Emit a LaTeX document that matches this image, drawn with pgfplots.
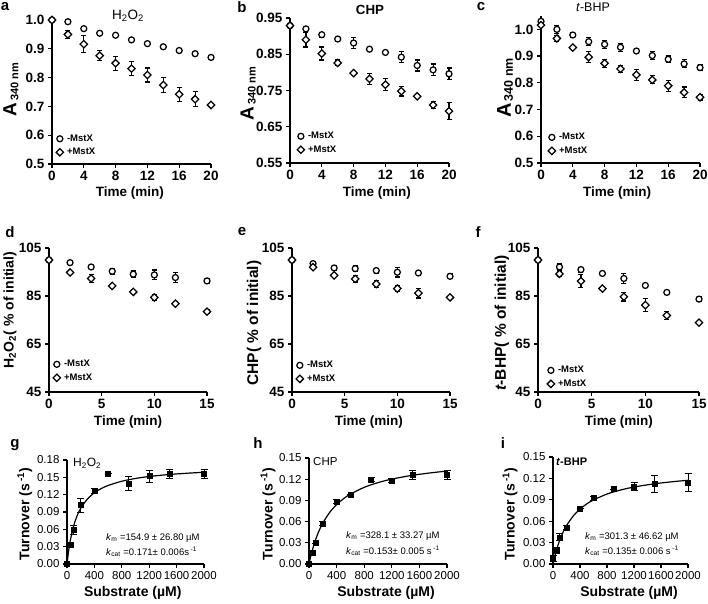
\documentclass[border=0pt]{standalone}
\usepackage{fontspec}
\setmainfont{Liberation Sans}
\usepackage{pgfplots}
\pgfplotsset{compat=1.18}
\newcommand{\fs}[1]{\fontsize{#1}{#1}\selectfont}
\pgfplotsset{
  panel/.style={scale only axis, axis lines=left, axis line style={-, line width=1.5pt, black},
    tick align=outside, major tick length=4pt, tick style={line width=1.2pt, black},
    clip=false, enlargelimits=false, anchor=south west, legend cell align=left,
    legend image code/.code={\draw[mark repeat=2,mark phase=2,##1] plot coordinates {(0pt,0pt) (4pt,0pt) (8pt,0pt)};},
    legend style={draw=none, fill=none, anchor=south west, font=\fs{9.5}\bfseries, inner sep=0pt, row sep=3.5pt, nodes={inner sep=1pt},
      /tikz/every odd column/.append style={column sep=2.5pt}},
    xlabel style={anchor=center}, ylabel style={anchor=center}},
  toprow/.style={panel, tick label style={font=\fs{13.5}\bfseries}, label style={font=\fs{13.5}\bfseries}},
  botrow/.style={panel, tick label style={font=\fs{11.5}}, label style={font=\fs{14}\bfseries}},
  circ/.style={only marks, black, mark=*, mark size=3pt, mark options={fill=white, line width=1.25pt, draw=black},
    error bars/.cd, y dir=both, y explicit, error bar style={line width=1.2pt, black},
    error mark options={rotate=90, mark size=2.5pt, line width=1.2pt, black}},
  diam/.style={only marks, black, mark=square*, mark size=2.6pt, mark options={fill=white, rotate=45, line width=1.25pt, draw=black},
    error bars/.cd, y dir=both, y explicit, error bar style={line width=1.2pt, black},
    error mark options={rotate=90, mark size=2.5pt, line width=1.2pt, black}},
  sq/.style={only marks, black, mark=square*, mark size=2.5pt, mark options={fill=black},
    error bars/.cd, y dir=both, y explicit, error bar style={line width=0.8pt, black},
    error mark options={rotate=90, mark size=3.5pt, line width=0.8pt, black}},
  fit/.style={black, line width=1.2pt, smooth, no marks},
}
\begin{document}
\begin{tikzpicture}
\useasboundingbox (0pt,0pt) rectangle (708pt,603pt);
% ---------- a ----------
\begin{axis}[toprow, at={(52pt,439pt)}, width=159pt, height=144pt,
  xmin=0, xmax=20, ymin=0.5, ymax=1.0,
  xtick={0,4,8,12,16,20}, xticklabels={0,4,8,12,16,20},
  ytick={0.5,0.6,0.7,0.8,0.9,1.0}, yticklabels={0.5,0.6,0.7,0.8,0.9,1.0},
  xlabel={Time (min)}, xlabel style={at={(axis description cs:0.49,-0.2)}},
  ylabel={{\fs{19}A}\,\raisebox{-2pt}{\fs{11}340 nm}}, ylabel style={at={(axis description cs:-0.258,0.514)}},
  legend style={at={(axis description cs:0.025,0.045)}}]
\addplot[circ] table[x=x,y=y,y error=e] {
x y e
0 1.000 0
2 0.994 0.006
4 0.970 0
6 0.954 0.005
8 0.947 0
10 0.931 0
12 0.918 0
14 0.907 0.006
16 0.894 0.007
18 0.883 0
20 0.870 0.007
};
\addlegendentry{-MstX}
\addplot[diam] table[x=x,y=y,y error=e] {
x y e
0 1.000 0
2 0.950 0.013
4 0.916 0.030
6 0.876 0.018
8 0.850 0.024
10 0.831 0.024
12 0.809 0.024
14 0.774 0.025
16 0.742 0.025
18 0.725 0.026
20 0.705 0.005
};
\addlegendentry{+MstX}
\end{axis}
% ---------- b ----------
\begin{axis}[toprow, at={(290pt,440pt)}, width=159pt, height=145pt,
  xmin=0, xmax=20, ymin=0.55, ymax=0.95,
  xtick={0,4,8,12,16,20}, xticklabels={0,4,8,12,16,20},
  ytick={0.55,0.65,0.75,0.85,0.95}, yticklabels={0.55,0.65,0.75,0.85,0.95},
  xlabel={Time (min)}, xlabel style={at={(axis description cs:0.547,-0.207)}},
  ylabel={{\fs{19}A}\,\raisebox{-2pt}{\fs{11}340 nm}}, ylabel style={at={(axis description cs:-0.264,0.476)}},
  legend style={at={(axis description cs:0.044,0.055)}}]
\addplot[circ] table[x=x,y=y,y error=e] {
x y e
0 0.929 0
2 0.920 0
4 0.904 0.007
6 0.892 0
8 0.881 0.016
10 0.864 0
12 0.855 0.006
14 0.842 0.015
16 0.819 0.015
18 0.807 0.016
20 0.796 0.016
};
\addlegendentry{-MstX}
\addplot[diam] table[x=x,y=y,y error=e] {
x y e
0 0.929 0
2 0.890 0.020
4 0.852 0.018
6 0.826 0.008
8 0.798 0
10 0.782 0.016
12 0.766 0.017
14 0.748 0.013
16 0.734 0
18 0.710 0.010
20 0.693 0.024
};
\addlegendentry{+MstX}
\end{axis}
% ---------- c ----------
\begin{axis}[toprow, at={(541pt,440pt)}, width=159pt, height=147pt,
  xmin=0, xmax=20, ymin=0.5, ymax=1.05,
  xtick={0,4,8,12,16,20}, xticklabels={0,4,8,12,16,20},
  ytick={0.5,0.6,0.7,0.8,0.9,1.0}, yticklabels={0.5,0.6,0.7,0.8,0.9,1.0},
  xlabel={Time (min)}, xlabel style={at={(axis description cs:0.478,-0.204)}},
  ylabel={{\fs{20}A}\,\raisebox{-2pt}{\fs{12.5}340 nm}}, ylabel style={at={(axis description cs:-0.226,0.51)}},
  legend style={at={(axis description cs:0.044,0.047)}}]
\addplot[circ] table[x=x,y=y,y error=e] {
x y e
0 1.030 0
2 1.000 0.015
4 0.979 0.008
6 0.954 0.015
8 0.944 0.015
10 0.933 0.015
12 0.919 0
14 0.902 0.015
16 0.888 0.012
18 0.871 0.015
20 0.857 0.010
};
\addlegendentry{-MstX}
\addplot[diam] table[x=x,y=y,y error=e] {
x y e
0 1.016 0
2 0.966 0.010
4 0.932 0.005
6 0.896 0.020
8 0.873 0.015
10 0.852 0.012
12 0.830 0.020
14 0.811 0.015
16 0.789 0.020
18 0.764 0.020
20 0.746 0.010
};
\addlegendentry{+MstX}
\end{axis}
% ---------- d ----------
\begin{axis}[toprow, at={(49pt,211pt)}, width=158pt, height=144pt,
  xmin=0, xmax=15, ymin=45, ymax=105,
  xtick={0,5,10,15}, xticklabels={0,5,10,15},
  ytick={45,65,85,105}, yticklabels={45,65,85,105},
  xlabel={Time (min)}, xlabel style={at={(axis description cs:0.5,-0.208)}},
  ylabel={H\textsubscript{2}O\textsubscript{2}( \% of initial)}, ylabel style={font=\fs{14}\bfseries, at={(axis description cs:-0.247,0.569)}},
  legend style={at={(axis description cs:0.025,0.062)}}]
\addplot[circ] table[x=x,y=y,y error=e] {
x y e
0 100 0
2 98.9 0
4 97.1 0
6 95.3 1.3
8 94.1 1.3
10 93.8 2
12 92.7 2
15 91.3 1
};
\addlegendentry{-MstX}
\addplot[diam] table[x=x,y=y,y error=e] {
x y e
0 100 0
2 94.8 0
4 92.3 1.7
6 89.2 0
8 86.7 0.7
10 84.4 1.3
12 81.8 0.7
15 78.5 0.8
};
\addlegendentry{+MstX}
\end{axis}
% ---------- e ----------
\begin{axis}[toprow, at={(292pt,211pt)}, width=158pt, height=144pt,
  xmin=0, xmax=15, ymin=45, ymax=105,
  xtick={0,5,10,15}, xticklabels={0,5,10,15},
  ytick={45,65,85,105}, yticklabels={45,65,85,105},
  xlabel={Time (min)}, xlabel style={at={(axis description cs:0.487,-0.208)}},
  ylabel={CHP( \% of initial)}, ylabel style={font=\fs{15.5}\bfseries, at={(axis description cs:-0.24,0.479)}},
  legend style={at={(axis description cs:0.025,0.055)}}]
\addplot[circ] table[x=x,y=y,y error=e] {
x y e
0 100 0
2 98.5 0
4 96.7 1
6 96.4 1.3
8 95.6 1
10 94.9 2
12 94.6 1
15 93.2 1
};
\addlegendentry{-MstX}
\addplot[diam] table[x=x,y=y,y error=e] {
x y e
0 100 0
2 97.0 0.5
4 93.6 0
6 92.1 1.3
8 90.0 1.3
10 88.1 1.3
12 86.2 2
15 84.4 0
};
\addlegendentry{+MstX}
\end{axis}
% ---------- f ----------
\begin{axis}[toprow, at={(538pt,211pt)}, width=161pt, height=144pt,
  xmin=0, xmax=15, ymin=45, ymax=105,
  xtick={0,5,10,15}, xticklabels={0,5,10,15},
  ytick={45,65,85,105}, yticklabels={45,65,85,105},
  xlabel={Time (min)}, xlabel style={at={(axis description cs:0.503,-0.208)}},
  ylabel={\textit{t}-BHP( \% of initial)}, ylabel style={font=\fs{15.5}\bfseries, at={(axis description cs:-0.224,0.479)}},
  legend style={at={(axis description cs:0.056,0.02)}}]
\addplot[circ] table[x=x,y=y,y error=e] {
x y e
0 100 0
2 97.1 1.3
4 96.0 1
6 94.4 0
8 92.3 2
10 89.4 0
12 86.5 0
15 83.7 1
};
\addlegendentry{-MstX}
\addplot[diam] table[x=x,y=y,y error=e] {
x y e
0 100 0
2 94.2 1
4 91.2 2.7
6 88.1 0
8 84.7 1.8
10 81.2 2.7
12 76.9 1.7
15 73.9 0
};
\addlegendentry{+MstX}
\end{axis}
% ---------- g ----------
\begin{axis}[botrow, at={(67pt,39pt)}, width=137pt, height=104pt,
  xmin=0, xmax=2000, ymin=0, ymax=0.18,
  xtick={0,400,800,1200,1600,2000}, xticklabels={0,400,800,1200,1600,2000},
  ytick={0,0.03,0.06,0.09,0.12,0.15,0.18}, yticklabels={0.00,0.03,0.06,0.09,0.12,0.15,0.18},
  xlabel={Substrate (µM)}, xlabel style={at={(axis description cs:0.48,-0.279)}},
  ylabel={Turnover (s\,\textsuperscript{-1})}, ylabel style={at={(axis description cs:-0.307,0.48)}}]
\addplot[fit] table {
0 0
25 0.02376
50 0.04173
100 0.06708
150 0.08413
200 0.09636
300 0.11277
400 0.12327
500 0.13055
600 0.13591
800 0.14326
1000 0.14807
1200 0.15145
1500 0.15499
1800 0.15745
2000 0.15871
};
\addplot[sq] table[x=x,y=y,y error=e] {
x y e
0 0.000 0
50 0.033 0
100 0.059 0.007
200 0.102 0.012
400 0.1265 0.004
600 0.157 0
900 0.139 0.012
1200 0.152 0.010
1500 0.156 0.008
2000 0.156 0.007
};
\end{axis}
% ---------- h ----------
\begin{axis}[botrow, at={(309pt,39pt)}, width=138pt, height=106pt,
  xmin=0, xmax=2000, ymin=0, ymax=0.15,
  xtick={0,400,800,1200,1600,2000}, xticklabels={0,400,800,1200,1600,2000},
  ytick={0,0.03,0.06,0.09,0.12,0.15}, yticklabels={0.00,0.03,0.06,0.09,0.12,0.15},
  xlabel={Substrate (µM)}, xlabel style={at={(axis description cs:0.558,-0.274)}},
  ylabel={Turnover (s\,\textsuperscript{-1})}, ylabel style={at={(axis description cs:-0.297,0.472)}}]
\addplot[fit] table {
0 0
25 0.01083
50 0.02023
100 0.03574
150 0.04800
200 0.05794
300 0.07308
400 0.08405
500 0.09238
600 0.09891
800 0.10850
1000 0.11520
1200 0.12015
1500 0.12554
1800 0.12941
2000 0.13144
};
\addplot[sq] table[x=x,y=y,y error=e] {
x y e
0 0.000 0
50 0.0165 0
100 0.0297 0
200 0.057 0.003
400 0.0887 0.003
600 0.098 0
900 0.120 0.003
1200 0.1184 0.003
1500 0.1264 0.006
2000 0.1264 0.006
};
\end{axis}
% ---------- i ----------
\begin{axis}[botrow, at={(553pt,39pt)}, width=135pt, height=107pt,
  xmin=0, xmax=2000, ymin=0, ymax=0.15,
  xtick={0,400,800,1200,1600,2000}, xticklabels={0,400,800,1200,1600,2000},
  ytick={0,0.03,0.06,0.09,0.12,0.15}, yticklabels={0.00,0.03,0.06,0.09,0.12,0.15},
  xlabel={Substrate (µM)}, xlabel style={at={(axis description cs:0.563,-0.271)}},
  ylabel={Turnover (s\,\textsuperscript{-1})}, ylabel style={at={(axis description cs:-0.318,0.467)}}]
\addplot[fit] table {
0 0
25 0.01034
50 0.01921
100 0.03364
150 0.04487
200 0.05386
300 0.06735
400 0.07700
500 0.08424
600 0.08987
800 0.09807
1000 0.10374
1200 0.10791
1500 0.11242
1800 0.11564
2000 0.11733
};
\addplot[sq] table[x=x,y=y,y error=e] {
x y e
0 0.008 0.004
50 0.0188 0.004
100 0.0375 0.005
200 0.051 0.003
400 0.0778 0
600 0.0924 0.003
900 0.105 0
1200 0.1088 0.006
1500 0.1125 0.012
2000 0.1144 0.012
};
\end{axis}
% ---------- panel letters and texts ----------
\begin{scope}[every node/.style={inner sep=0pt}]
\node[font=\fs{15}\bfseries] at (5pt,596pt) {a};
\node[font=\fs{15}\bfseries] at (242pt,596pt) {b};
\node[font=\fs{15}\bfseries] at (481pt,596pt) {c};
\node[font=\fs{15}\bfseries] at (10pt,371pt) {d};
\node[font=\fs{15}\bfseries] at (242pt,371pt) {e};
\node[font=\fs{15}\bfseries] at (478pt,371pt) {f};
\node[font=\fs{15}\bfseries] at (15pt,158pt) {g};
\node[font=\fs{15}\bfseries] at (258pt,160pt) {h};
\node[font=\fs{15}\bfseries] at (503pt,160pt) {i};
\node[font=\fs{13.5}] at (128pt,587pt) {H\textsubscript{2}O\textsubscript{2}};
\node[font=\fs{13.3}\bfseries] at (370pt,593pt) {CHP};
\node[font=\fs{12.5}] at (593pt,596pt) {\textit{t}-BHP};
\node[font=\fs{12}, anchor=west] at (73pt,140pt) {H\textsubscript{2}O\textsubscript{2}};
\node[font=\fs{11.5}, anchor=west] at (313pt,141pt) {CHP};
\node[font=\fs{11}\bfseries, anchor=west] at (556pt,141pt) {\textit{t}-BHP};
\node[font=\fs{9.5}, anchor=west] at (106pt,65pt) {\textit{k}\textsubscript{m} =154.9 ± 26.80 µM};
\node[font=\fs{9.5}, anchor=west] at (106pt,51pt) {\textit{k}\textsubscript{cat} =0.171± 0.006s\,\textsuperscript{-1}};
\node[font=\fs{9.5}, anchor=west] at (346pt,67pt) {\textit{k}\textsubscript{m} =328.1 ± 33.27 µM};
\node[font=\fs{9.5}, anchor=west] at (346pt,52pt) {\textit{k}\textsubscript{cat} =0.153± 0.005 s\,\textsuperscript{-1}};
\node[font=\fs{9.5}, anchor=west] at (585pt,66pt) {\textit{k}\textsubscript{m} =301.3 ± 46.62 µM};
\node[font=\fs{9.5}, anchor=west] at (585pt,52pt) {\textit{k}\textsubscript{cat} =0.135± 0.006 s\,\textsuperscript{-1}};
\end{scope}
\end{tikzpicture}
\end{document}
